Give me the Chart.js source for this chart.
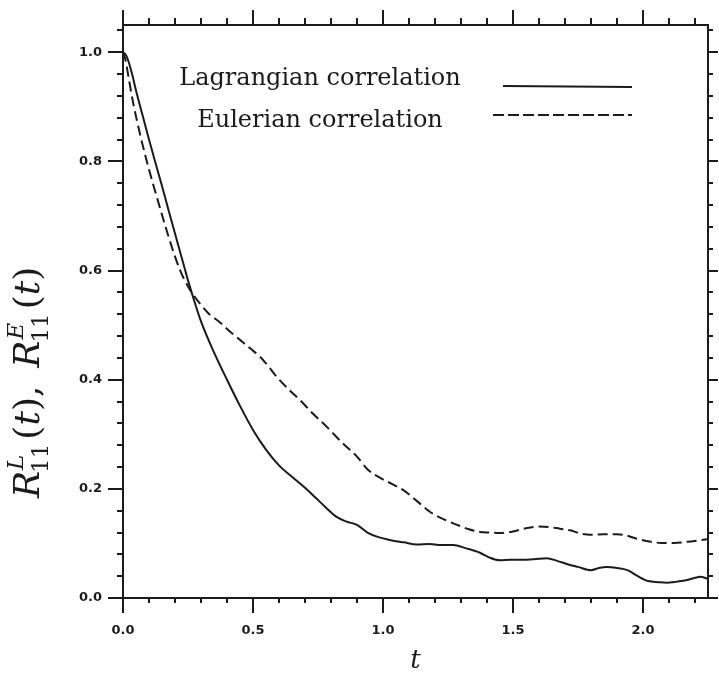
<!DOCTYPE html>
<html>
<head>
<meta charset="utf-8">
<script src="https://cdn.jsdelivr.net/npm/chart.js@4.4.1/dist/chart.umd.min.js"></script>
<style>
  html, body { margin: 0; padding: 0; background: #ffffff; }
  #wrap { width: 719px; height: 677px; }
</style>
</head>
<body>
<div id="wrap"><canvas id="c" width="719" height="677"></canvas></div>
<script>
// Lagrangian velocity autocorrelation R11^L(t)
const lagT = [0.00, 0.01, 0.02, 0.035, 0.05, 0.075, 0.10, 0.125, 0.15, 0.175, 0.20, 0.225, 0.25, 0.275, 0.30, 0.35, 0.40, 0.45, 0.50, 0.55, 0.60, 0.65, 0.70, 0.74, 0.78, 0.82, 0.86, 0.90, 0.94, 0.98, 1.03, 1.08, 1.13, 1.18, 1.22, 1.27, 1.32, 1.373, 1.41, 1.45, 1.49, 1.53, 1.58, 1.63, 1.67, 1.71, 1.75, 1.80, 1.83, 1.86, 1.90, 1.94, 1.98, 2.02, 2.06, 2.09, 2.13, 2.17, 2.20, 2.22, 2.25];
const lagR = [1.000, 0.996, 0.985, 0.960, 0.930, 0.885, 0.840, 0.797, 0.755, 0.711, 0.668, 0.625, 0.582, 0.543, 0.507, 0.450, 0.400, 0.352, 0.308, 0.272, 0.243, 0.222, 0.202, 0.184, 0.166, 0.149, 0.140, 0.134, 0.120, 0.112, 0.106, 0.102, 0.098, 0.099, 0.097, 0.097, 0.091, 0.083, 0.074, 0.069, 0.070, 0.070, 0.071, 0.073, 0.068, 0.062, 0.057, 0.051, 0.055, 0.057, 0.055, 0.051, 0.040, 0.031, 0.029, 0.028, 0.030, 0.033, 0.037, 0.039, 0.035];

// Eulerian velocity autocorrelation R11^E(t)
const eulT = [0.00, 0.01, 0.02, 0.04, 0.068, 0.10, 0.13, 0.16, 0.19, 0.22, 0.25, 0.27, 0.30, 0.33, 0.373, 0.41, 0.45, 0.49, 0.527, 0.56, 0.592, 0.64, 0.68, 0.73, 0.783, 0.84, 0.90, 0.94, 0.99, 1.03, 1.077, 1.13, 1.18, 1.23, 1.285, 1.33, 1.373, 1.41, 1.45, 1.50, 1.55, 1.60, 1.64, 1.68, 1.72, 1.76, 1.80, 1.85, 1.90, 1.94, 1.98, 2.03, 2.07, 2.12, 2.17, 2.22, 2.25];
const eulR = [1.000, 0.985, 0.958, 0.905, 0.845, 0.785, 0.735, 0.686, 0.640, 0.600, 0.571, 0.556, 0.537, 0.521, 0.505, 0.489, 0.473, 0.457, 0.442, 0.424, 0.405, 0.381, 0.363, 0.338, 0.314, 0.286, 0.259, 0.236, 0.220, 0.210, 0.198, 0.178, 0.158, 0.145, 0.134, 0.126, 0.121, 0.120, 0.119, 0.122, 0.128, 0.131, 0.130, 0.127, 0.124, 0.118, 0.116, 0.117, 0.117, 0.114, 0.108, 0.103, 0.101, 0.101, 0.103, 0.106, 0.108];

const seriesNames = ['Lagrangian correlation', 'Eulerian correlation'];

// axis ticks
const xMajor = [0.0, 0.5, 1.0, 1.5, 2.0];
const xMinor = [0.1, 0.2, 0.3, 0.4, 0.6, 0.7, 0.8, 0.9, 1.1, 1.2, 1.3, 1.4, 1.6, 1.7, 1.8, 1.9, 2.1, 2.2];
const yMajor = [0.0, 0.2, 0.4, 0.6, 0.8, 1.0];
const yMinor = [0.04, 0.08, 0.12, 0.16, 0.24, 0.28, 0.32, 0.36, 0.44, 0.48, 0.52, 0.56, 0.64, 0.68, 0.72, 0.76, 0.84, 0.88, 0.92, 0.96, 1.04];

const INK = '#1b1b1b';
const tickFont = { family: '"DejaVu Sans", sans-serif', weight: 'bold', size: 13 };

function toPoints(xs, ys) { return xs.map((x, i) => ({ x: x, y: ys[i] })); }

// minor tick marks on all four sides of the frame
const minorTicks = {
  id: 'minorTicks',
  afterDraw(chart) {
    const { ctx, chartArea: a } = chart;
    const sx = chart.scales.x, sy = chart.scales.y;
    ctx.save();
    ctx.strokeStyle = INK;
    ctx.lineWidth = 2;
    ctx.beginPath();
    xMinor.forEach(v => {
      const px = Math.round(sx.getPixelForValue(v));
      ctx.moveTo(px, a.bottom); ctx.lineTo(px, a.bottom + 5);
      ctx.moveTo(px, a.top); ctx.lineTo(px, a.top - 7);
    });
    yMinor.forEach(v => {
      const py = Math.round(sy.getPixelForValue(v));
      ctx.moveTo(a.left, py); ctx.lineTo(a.left - 6, py);
      ctx.moveTo(a.right, py); ctx.lineTo(a.right + 5, py);
    });
    ctx.stroke();
    ctx.restore();
  }
};

// in-plot key: centred labels with line samples to their right
const keyBox = {
  id: 'keyBox',
  afterDraw(chart) {
    const ctx = chart.ctx;
    ctx.save();
    ctx.fillStyle = INK;
    ctx.font = '24px "DejaVu Serif", serif';
    ctx.textAlign = 'center';
    ctx.textBaseline = 'alphabetic';
    ctx.fillText(seriesNames[0], 320, 85);
    ctx.fillText(seriesNames[1], 320, 127);
    ctx.strokeStyle = INK;
    ctx.lineWidth = 2;
    ctx.beginPath(); ctx.moveTo(503, 86); ctx.lineTo(632, 87); ctx.stroke();
    ctx.setLineDash([11, 4]);
    ctx.beginPath(); ctx.moveTo(493, 115); ctx.lineTo(632, 115); ctx.stroke();
    ctx.restore();
  }
};

// vertical axis title  R11^L(t), R11^E(t)
const yTitle = {
  id: 'yTitle',
  afterDraw(chart) {
    const ctx = chart.ctx;
    const big = 36, small = 23;
    const it = s => 'italic ' + s + 'px "DejaVu Serif", serif';
    const up = s => s + 'px "DejaVu Serif", serif';
    ctx.save();
    ctx.translate(39, 498);
    ctx.rotate(-Math.PI / 2);
    ctx.fillStyle = INK;
    ctx.textBaseline = 'alphabetic';
    ctx.textAlign = 'left';
    let x = 0;
    const put = (txt, font, dy) => { ctx.font = font; ctx.fillText(txt, x, dy); return ctx.measureText(txt).width; };
    const term = (sup) => {
      x += put('R', it(big), 0);
      ctx.font = it(small);
      const w1 = ctx.measureText(sup).width;
      ctx.fillText(sup, x + 1, -16);
      ctx.font = up(small);
      const w2 = ctx.measureText('11').width;
      ctx.fillText('11', x - 2, 9);
      x += Math.max(w1 + 1, w2 - 2) + 4;
      x += put('(', up(big), 0);
      x += put('t', it(big), 0);
      x += put(')', up(big), 0);
    };
    term('L');
    x += put(',', up(big), 0);
    x += 18;
    term('E');
    ctx.restore();
  }
};

new Chart(document.getElementById('c'), {
  type: 'line',
  data: {
    datasets: [
      { label: seriesNames[0], data: toPoints(lagT, lagR), borderColor: INK, borderWidth: 2,
        pointRadius: 0, fill: false, cubicInterpolationMode: 'monotone', xAxisID: 'x', yAxisID: 'y' },
      { label: seriesNames[1], data: toPoints(eulT, eulR), borderColor: INK, borderWidth: 2,
        borderDash: [10, 5], pointRadius: 0, fill: false, cubicInterpolationMode: 'monotone', xAxisID: 'x', yAxisID: 'y' }
    ]
  },
  options: {
    responsive: false,
    animation: false,
    devicePixelRatio: 1,
    layout: { padding: 0 },
    plugins: { legend: { display: false }, tooltip: { enabled: false } },
    scales: {
      x: {
        type: 'linear', axis: 'x', position: 'bottom', min: 0, max: 2.25,
        afterBuildTicks: s => { s.ticks = xMajor.map(v => ({ value: v })); },
        afterFit: s => { s.height = 79; },
        ticks: { callback: v => Number(v).toFixed(1), font: tickFont, color: INK, padding: 10, maxRotation: 0, autoSkip: false },
        grid: { drawOnChartArea: false, drawTicks: true, tickLength: 15, color: INK, lineWidth: 2 },
        border: { display: true, color: INK, width: 2 },
        title: { display: true, text: 't', color: INK, font: { family: '"DejaVu Serif", serif', style: 'italic', size: 26 }, padding: { top: 0, bottom: 0 } }
      },
      x2: {
        type: 'linear', axis: 'x', position: 'top', min: 0, max: 2.25,
        afterBuildTicks: s => { s.ticks = xMajor.map(v => ({ value: v })); },
        afterFit: s => { s.height = 25; },
        ticks: { display: false },
        grid: { drawOnChartArea: false, drawTicks: true, tickLength: 15, color: INK, lineWidth: 2 },
        border: { display: true, color: INK, width: 2 }
      },
      y: {
        type: 'linear', axis: 'y', position: 'left', min: 0, max: 1.05,
        afterBuildTicks: s => { s.ticks = yMajor.map(v => ({ value: v })); },
        afterFit: s => { s.width = 123; },
        ticks: { callback: v => Number(v).toFixed(1), font: tickFont, color: INK, padding: 6, autoSkip: false },
        grid: { drawOnChartArea: false, drawTicks: true, tickLength: 15, color: INK, lineWidth: 2 },
        border: { display: true, color: INK, width: 2 }
      },
      y2: {
        type: 'linear', axis: 'y', position: 'right', min: 0, max: 1.05,
        afterBuildTicks: s => { s.ticks = yMajor.map(v => ({ value: v })); },
        afterFit: s => { s.width = 11; },
        ticks: { display: false },
        grid: { drawOnChartArea: false, drawTicks: true, tickLength: 10, color: INK, lineWidth: 2 },
        border: { display: true, color: INK, width: 2 }
      }
    }
  },
  plugins: [minorTicks, keyBox, yTitle]
});
</script>
</body>
</html>
